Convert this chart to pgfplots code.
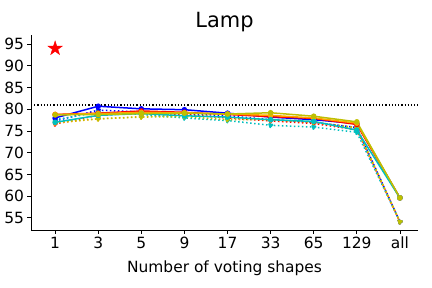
\documentclass[border=0pt]{standalone}
\usepackage{fontspec}
\setmainfont{DejaVu Sans}
\usepackage{pgfplots}
\pgfplotsset{compat=1.18}
\definecolor{mb}{rgb}{0,0,1}
\definecolor{mr}{rgb}{1,0,0}
\definecolor{mo}{rgb}{1,0.647,0}
\definecolor{mc}{rgb}{0,0.75,0.75}
\definecolor{my}{rgb}{0.75,0.75,0}
\pgfdeclareplotmark{fstar}{%
  \pgfpathmoveto{\pgfpointpolar{90}{\pgfplotmarksize}}%
  \pgfpathlineto{\pgfpointpolar{126}{0.382\pgfplotmarksize}}%
  \pgfpathlineto{\pgfpointpolar{162}{\pgfplotmarksize}}%
  \pgfpathlineto{\pgfpointpolar{198}{0.382\pgfplotmarksize}}%
  \pgfpathlineto{\pgfpointpolar{234}{\pgfplotmarksize}}%
  \pgfpathlineto{\pgfpointpolar{270}{0.382\pgfplotmarksize}}%
  \pgfpathlineto{\pgfpointpolar{306}{\pgfplotmarksize}}%
  \pgfpathlineto{\pgfpointpolar{342}{0.382\pgfplotmarksize}}%
  \pgfpathlineto{\pgfpointpolar{18}{\pgfplotmarksize}}%
  \pgfpathlineto{\pgfpointpolar{54}{0.382\pgfplotmarksize}}%
  \pgfpathclose\pgfusepathqfillstroke}
\begin{document}
\begin{tikzpicture}[x=1bp,y=1bp]
\path[use as bounding box] (-31,-58) rectangle (401,230);
\begin{axis}[
  at={(0,0)}, anchor=south west,
  scale only axis, width=387bp, height=195bp,
  xmin=-0.56, xmax=8.42, ymin=52.2, ymax=97.1,
  axis x line*=bottom, axis y line*=left,
  axis line style={line width=0.8bp},
  tick align=outside, major tick length=3.5bp,
  tick style={line width=0.8bp, black},
  xtick={0,1,2,3,4,5,6,7,8},
  xticklabels={1,3,5,9,17,33,65,129,all},
  ytick={55,60,65,70,75,80,85,90,95},
  /pgf/number format/assume math mode=true,
  ticklabel style={font=\fontsize{15.5}{18}\selectfont},
  xlabel={Number of voting shapes},
  xlabel style={font=\fontsize{15.5}{18}\selectfont, yshift=-5bp},
  title={Lamp},
  title style={font=\fontsize{21}{25}\selectfont, yshift=-6bp},
  every axis plot/.append style={mark=*, mark size=2bp},
  clip=false,
]
\addplot[black, dotted, line width=1.2bp, mark=none] coordinates {(-0.56,81) (8.42,81)};
% dotted series
\addplot[mb, line width=1.5bp, dash pattern=on 1.5bp off 2.5bp] coordinates {(0,77.3) (1,79.8) (2,79.4) (3,79.0) (4,78.5) (5,77.6) (6,77.0) (7,75.8) (8,54.1)};
\addplot[mr, line width=1.5bp, dash pattern=on 1.5bp off 2.5bp] coordinates {(0,76.6) (1,78.6) (2,79.2) (3,78.8) (4,78.0) (5,77.3) (6,76.7) (7,75.3) (8,54.1)};
\addplot[mo, line width=1.5bp, dash pattern=on 1.5bp off 2.5bp] coordinates {(0,76.8) (1,77.8) (2,78.3) (3,78.6) (4,78.1) (5,77.5) (6,77.0) (7,75.5) (8,54.1)};
\addplot[mc, line width=1.5bp, dash pattern=on 1.5bp off 2.5bp] coordinates {(0,77.6) (1,79.3) (2,78.8) (3,78.0) (4,77.4) (5,76.3) (6,75.9) (7,74.7) (8,54.1)};
\addplot[my, line width=1.5bp, dash pattern=on 1.5bp off 2.5bp] coordinates {(0,77.0) (1,77.8) (2,78.2) (3,78.3) (4,77.6) (5,77.6) (6,77.0) (7,75.8) (8,54.1)};
% solid series
\addplot[mb, line width=1.5bp] coordinates {(0,78.0) (1,80.7) (2,80.1) (3,79.9) (4,79.1) (5,78.2) (6,77.6) (7,76.7) (8,59.6)};
\addplot[mr, line width=1.5bp] coordinates {(0,78.8) (1,79.1) (2,79.6) (3,79.3) (4,78.8) (5,78.3) (6,77.9) (7,76.5) (8,59.6)};
\addplot[mo, line width=1.5bp] coordinates {(0,78.8) (1,79.0) (2,79.3) (3,79.2) (4,78.9) (5,78.6) (6,78.0) (7,76.8) (8,59.6)};
\addplot[mc, line width=1.5bp] coordinates {(0,77.0) (1,78.6) (2,79.0) (3,78.5) (4,78.2) (5,77.6) (6,77.2) (7,75.2) (8,59.6)};
\addplot[my, line width=1.5bp] coordinates {(0,78.7) (1,78.8) (2,79.0) (3,79.1) (4,78.9) (5,79.2) (6,78.4) (7,77.1) (8,59.6)};
\addplot[mr, only marks, mark=fstar, mark size=7.5bp] coordinates {(0,94.0)};
\end{axis}
\end{tikzpicture}
\end{document}
